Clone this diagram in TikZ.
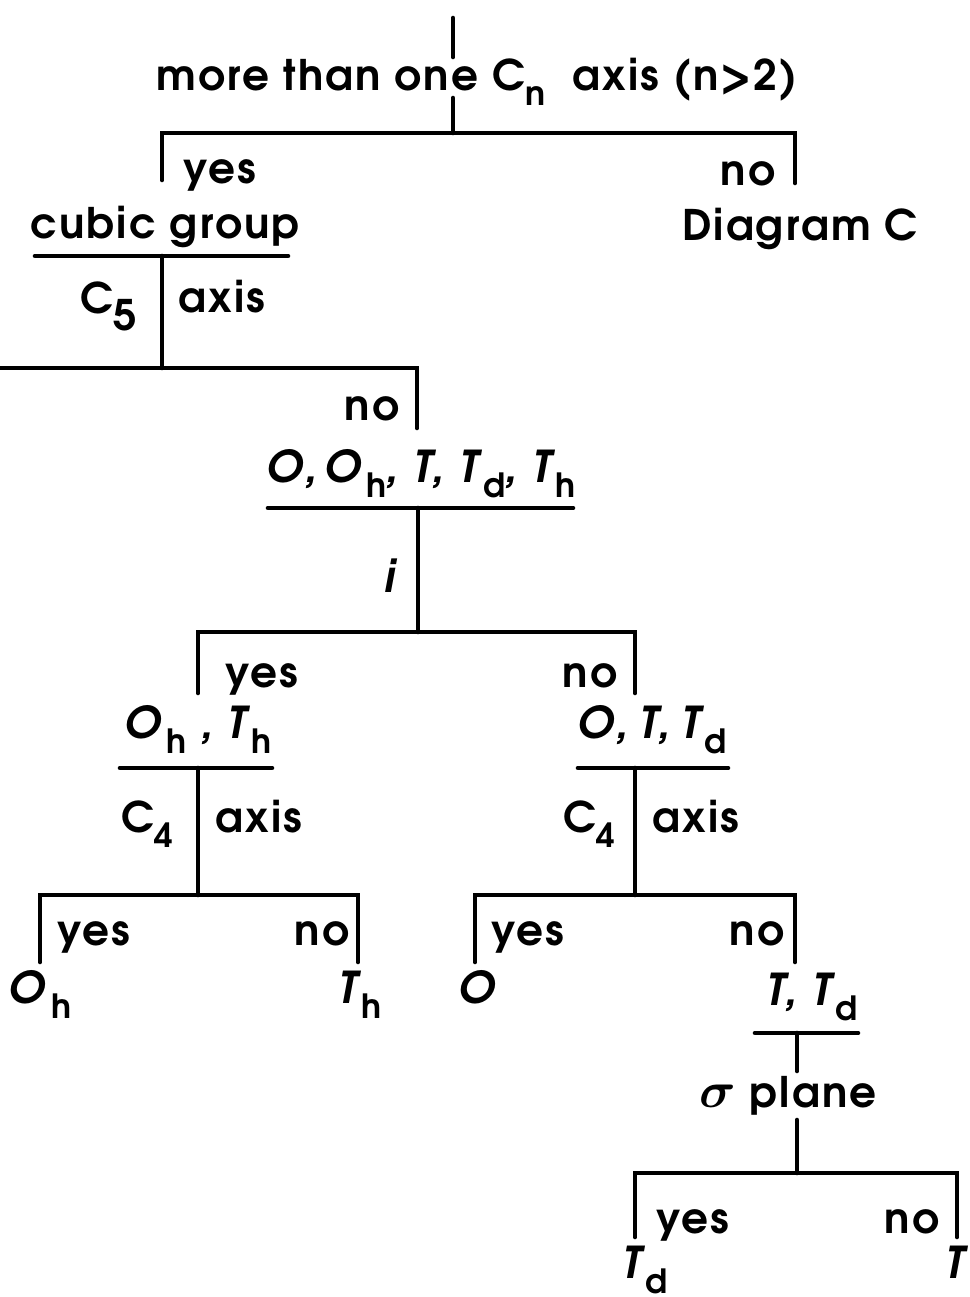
\documentclass[tikz,border=0pt]{standalone}
\usepackage{amsmath}
\usepackage{fontspec}
\setmainfont{TeX Gyre Adventor}[LetterSpace=5]
\usetikzlibrary{positioning}
% lowered subscript, upright
\newcommand{\lo}[1]{\raisebox{-4.4pt}{\fontsize{9.5}{10}\selectfont\upshape #1}}
\newcommand{\grp}[2]{\textit{#1}\kern1.5pt\lo{#2}}
\tikzset{
  ln/.style    = {line width=1.3pt, line cap=round},
  lbl/.style   = {inner sep=0pt, anchor=base, font=\fontsize{12}{15}\selectfont\bfseries},
  lbll/.style  = {lbl, anchor=base west},
  lblr/.style  = {lbl, anchor=base east},
  grpname/.style = {lbl, font=\fontsize{12.5}{15}\selectfont\bfseries\itshape},
}
\begin{document}
\begin{tikzpicture}[x=0.1mm, y=-0.1mm]
  \useasboundingbox (0,0) rectangle (970,1297);

  % root question
  \node[lbl] (q1) at (477,90) {more than one C\lo{n}\ \ axis (n>2)};
  \coordinate (r0) at (453,18);
  \coordinate (r1) at (453,57);
  \coordinate (r2) at (453,98);
  \coordinate (r3) at (453,133);
  \draw[ln] (r0) -- (r1);
  \draw[ln] (r2) -- (r3);
  \coordinate (f1y) at (162,180);
  \coordinate (f1n) at (795,183);
  \draw[ln] (f1y) |- (r3) -| (f1n);
  \node[lbl] (yes1) at (220,183) {yes};
  \node[lbl] (no1) at (748,185) {no};

  % cubic group
  \node[lbl] (cubic) at (165,238) {cubic group};
  \node[lbl] (diagC) at (800,240) {Diagram C};
  \coordinate (u1a) at (35,256);
  \coordinate (u1b) at (288,256);
  \draw[ln] (u1a) -- (u1b);
  \coordinate (s1) at (162,256);
  \coordinate (s1e) at (162,368);
  \draw[ln] (s1) -- (s1e);
  \node[lblr] (c5) at (138,313) {C\raisebox{-5pt}{\fontsize{12}{12}\selectfont 5}};
  \node[lbll] (ax1) at (178,312) {axis};
  \coordinate (f2y) at (-5,368);
  \coordinate (f2n) at (417,428);
  \draw[ln] (f2y) -- (s1e) -| (f2n);
  \node[lbl] (no2) at (372,420) {no};

  % O, Oh, T, Td, Th
  \node[grpname] (all) at (421,482) {O,\kern2pt\grp{O}{h},\ T,\ \grp{T}{d},\ \grp{T}{h}};
  \coordinate (u2a) at (268,508);
  \coordinate (u2b) at (573,508);
  \draw[ln] (u2a) -- (u2b);
  \coordinate (s2) at (418,508);
  \coordinate (s2e) at (418,632);
  \draw[ln] (s2) -- (s2e);
  \node[grpname] (inv) at (390,592) {i};
  \coordinate (f3y) at (198,693);
  \coordinate (f3n) at (635,693);
  \draw[ln] (f3y) |- (s2e) -| (f3n);
  \node[lbl] (yes3) at (262,687) {yes};
  \node[lbl] (no3) at (590,687) {no};

  % Oh, Th
  \node[grpname] (ohth) at (198,738) {\grp{O}{h}\ ,\ \grp{T}{h}};
  \coordinate (u3a) at (120,768);
  \coordinate (u3b) at (272,768);
  \draw[ln] (u3a) -- (u3b);
  \coordinate (s3) at (198,768);
  \coordinate (s3e) at (198,895);
  \draw[ln] (s3) -- (s3e);
  \node[lblr] (c4a) at (174,832) {C\lo{4}};
  \node[lbll] (ax3a) at (215,832) {axis};
  \coordinate (f4y) at (40,962);
  \coordinate (f4n) at (358,962);
  \draw[ln] (f4y) |- (s3e) -| (f4n);
  \node[lbl] (yes4a) at (94,945) {yes};
  \node[lbl] (no4a) at (322,945) {no};
  \node[grpname] (oh) at (40,1003) {\grp{O}{h}};
  \node[grpname] (th) at (360,1003) {\grp{T}{h}};

  % O, T, Td
  \node[grpname] (ottd) at (652,738) {O,\kern3pt T,\kern3pt\grp{T}{d}};
  \coordinate (u3c) at (578,768);
  \coordinate (u3d) at (728,768);
  \draw[ln] (u3c) -- (u3d);
  \coordinate (s4) at (635,768);
  \coordinate (s4e) at (635,895);
  \draw[ln] (s4) -- (s4e);
  \node[lblr] (c4b) at (616,832) {C\lo{4}};
  \node[lbll] (ax3b) at (652,832) {axis};
  \coordinate (f5y) at (475,962);
  \coordinate (f5n) at (795,962);
  \draw[ln] (f5y) |- (s4e) -| (f5n);
  \node[lbl] (yes4b) at (528,945) {yes};
  \node[lbl] (no4b) at (757,945) {no};
  \node[grpname] (o) at (477,1003) {O};

  % T, Td
  \node[grpname] (ttd) at (812,1005) {T,\ \grp{T}{d}};
  \coordinate (u4a) at (755,1033);
  \coordinate (u4b) at (858,1033);
  \draw[ln] (u4a) -- (u4b);
  \coordinate (s5) at (797,1033);
  \coordinate (s5a) at (797,1071);
  \coordinate (s5b) at (797,1120);
  \coordinate (s5e) at (797,1173);
  \draw[ln] (s5) -- (s5a);
  \draw[ln] (s5b) -- (s5e);
  \node[lbl] (sig) at (788,1107) {{\fontsize{15}{15}\selectfont$\boldsymbol{\sigma}$}\ plane};
  \coordinate (f6y) at (635,1237);
  \coordinate (f6n) at (957,1237);
  \draw[ln] (f6y) |- (s5e) -| (f6n);
  \node[lbl] (yes5) at (693,1233) {yes};
  \node[lbl] (no5) at (912,1233) {no};
  \node[grpname] (td) at (645,1278) {\grp{T}{d}};
  \node[grpname, anchor=base west] (t) at (945,1278) {T};
\end{tikzpicture}
\end{document}
